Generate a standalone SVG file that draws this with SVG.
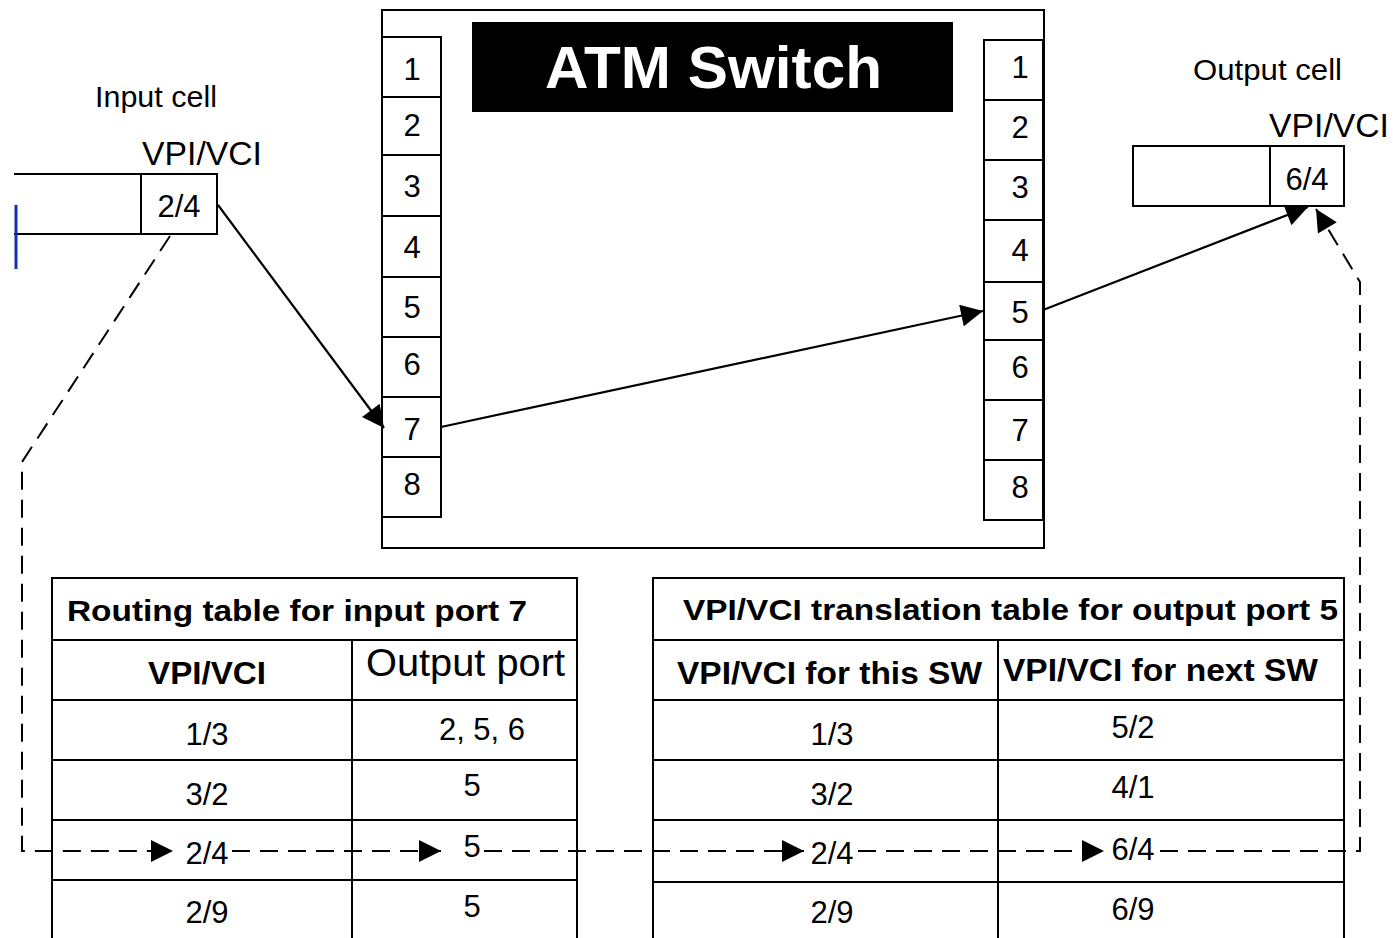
<svg xmlns="http://www.w3.org/2000/svg" width="1393" height="938" viewBox="0 0 1393 938">
<defs>
<marker id="ahb" viewBox="0 0 10 10" refX="10" refY="5" markerWidth="24" markerHeight="22" markerUnits="userSpaceOnUse" orient="auto">
<path d="M0,0 L10,5 L0,10 z" fill="#000"/>
</marker>
</defs>
<style>
.box{fill:#fff;stroke:#000;stroke-width:2}
.ln{stroke:#000;stroke-width:2;fill:none}
.t{font-family:"Liberation Sans",Arial,sans-serif;fill:#000}
.port{font-size:31px;text-anchor:middle}
.lbl{font-size:30px}
.cell{font-size:31px;text-anchor:middle}
.bold{font-weight:bold}
.dash{stroke:#000;stroke-width:2;fill:none;stroke-dasharray:18,10}
.arr{stroke:#000;stroke-width:2.2;fill:none}
</style>
<rect width="1393" height="938" fill="#fff"/>

<g id="atm-switch">
<rect class="box" x="382" y="10" width="662" height="538"/>
<rect x="472" y="22" width="481" height="90" fill="#000"/>
<text class="t bold" x="545" y="88" font-size="60" textLength="337" lengthAdjust="spacingAndGlyphs" style="fill:#fff">ATM Switch</text>
</g>

<g id="input-ports">
<rect class="box" x="382" y="37" width="59" height="480"/>
<path class="ln" d="M382,97H441M382,155H441M382,216H441M382,277H441M382,337H441M382,397H441M382,457H441"/>
<text class="t port" x="412" y="80">1</text>
<text class="t port" x="412" y="136">2</text>
<text class="t port" x="412" y="197">3</text>
<text class="t port" x="412" y="258">4</text>
<text class="t port" x="412" y="318">5</text>
<text class="t port" x="412" y="375">6</text>
<text class="t port" x="412" y="440">7</text>
<text class="t port" x="412" y="495">8</text>
</g>

<g id="output-ports">
<rect class="box" x="984" y="40" width="59" height="480"/>
<path class="ln" d="M984,100H1043M984,160H1043M984,220H1043M984,282H1043M984,340H1043M984,400H1043M984,460H1043"/>
<text class="t port" x="1020" y="78">1</text>
<text class="t port" x="1020" y="138">2</text>
<text class="t port" x="1020" y="198">3</text>
<text class="t port" x="1020" y="261">4</text>
<text class="t port" x="1020" y="323">5</text>
<text class="t port" x="1020" y="378">6</text>
<text class="t port" x="1020" y="441">7</text>
<text class="t port" x="1020" y="498">8</text>
</g>

<g id="input-cell">
<text class="t lbl" x="95" y="107" textLength="122" lengthAdjust="spacingAndGlyphs">Input cell</text>
<text class="t" x="142" y="165" font-size="33" textLength="120" lengthAdjust="spacingAndGlyphs">VPI/VCI</text>
<path class="ln" d="M14,174H217V234H14M141,174V234"/>
<text class="t cell" x="179" y="217">2/4</text>
<line x1="16" y1="205" x2="16" y2="269" stroke="#1530b0" stroke-width="3"/>
</g>

<g id="output-cell">
<text class="t lbl" x="1193" y="80" textLength="149" lengthAdjust="spacingAndGlyphs">Output cell</text>
<text class="t" x="1269" y="137" font-size="33" textLength="120" lengthAdjust="spacingAndGlyphs">VPI/VCI</text>
<rect class="box" x="1133" y="146" width="211" height="60"/>
<line class="ln" x1="1270" y1="146" x2="1270" y2="206"/>
<text class="t cell" x="1307" y="190">6/4</text>
</g>

<g id="routing-table">
<rect class="box" x="52" y="578" width="525" height="380"/>
<path class="ln" d="M52,640H577M52,700H577M52,760H577M52,820H577M52,880H577M352,640V938"/>
<text class="t bold" x="67" y="621" font-size="30" textLength="460" lengthAdjust="spacingAndGlyphs">Routing table for input port 7</text>
<text class="t bold" x="148" y="684" font-size="32" textLength="118" lengthAdjust="spacingAndGlyphs">VPI/VCI</text>
<text class="t" x="366" y="676" font-size="38" textLength="199" lengthAdjust="spacingAndGlyphs">Output port</text>
<text class="t cell" x="207" y="745">1/3</text>
<text class="t cell" x="482" y="740">2, 5, 6</text>
<text class="t cell" x="207" y="805">3/2</text>
<text class="t cell" x="472" y="796">5</text>
<text class="t cell" x="207" y="864">2/4</text>
<text class="t cell" x="472" y="857">5</text>
<text class="t cell" x="207" y="923">2/9</text>
<text class="t cell" x="472" y="917">5</text>
</g>

<g id="translation-table">
<rect class="box" x="653" y="578" width="691" height="380"/>
<path class="ln" d="M653,640H1344M653,700H1344M653,760H1344M653,820H1344M653,882H1344M998,640V938"/>
<text class="t bold" x="683" y="620" font-size="30" textLength="655" lengthAdjust="spacingAndGlyphs">VPI/VCI translation table for output port 5</text>
<text class="t bold" x="677" y="684" font-size="31" textLength="305" lengthAdjust="spacingAndGlyphs">VPI/VCI for this SW</text>
<text class="t bold" x="1003" y="681" font-size="31" textLength="315" lengthAdjust="spacingAndGlyphs">VPI/VCI for next SW</text>
<text class="t cell" x="832" y="745">1/3</text>
<text class="t cell" x="1133" y="738">5/2</text>
<text class="t cell" x="832" y="805">3/2</text>
<text class="t cell" x="1133" y="798">4/1</text>
<text class="t cell" x="832" y="864">2/4</text>
<text class="t cell" x="1133" y="860">6/4</text>
<text class="t cell" x="832" y="923">2/9</text>
<text class="t cell" x="1133" y="920">6/9</text>
</g>

<g id="connectors">
<line class="arr" x1="218" y1="205" x2="384" y2="428" marker-end="url(#ahb)"/>
<line class="arr" x1="441" y1="427" x2="983" y2="311" marker-end="url(#ahb)"/>
<line class="arr" x1="1043" y1="310" x2="1308" y2="207" marker-end="url(#ahb)"/>
<path class="dash" d="M170,236L22,462V851H173" marker-end="url(#ahb)"/>
<path class="dash" d="M232,851H441" marker-end="url(#ahb)"/>
<path class="dash" d="M484,851H804" marker-end="url(#ahb)"/>
<path class="dash" d="M858,851H1104" marker-end="url(#ahb)"/>
<path class="dash" d="M1160,851H1360V282L1316,209" marker-end="url(#ahb)"/>
</g>
</svg>
